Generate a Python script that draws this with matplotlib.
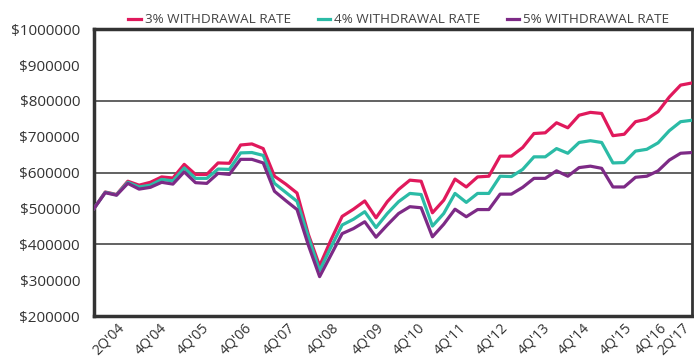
import numpy as np
import matplotlib
matplotlib.use("Agg")
import matplotlib.pyplot as plt

plt.rcParams['font.family'] = ['Open Sans', 'DejaVu Sans']

# portfolio value per quarter, in thousands of dollars
rate_3 = [500, 546, 539, 576, 565, 573, 588, 585, 623, 595, 595, 627, 626, 677, 680, 667,
          590, 568, 543, 428, 340, 412, 478, 498, 521, 474, 519, 553, 579, 576, 488, 523,
          582, 560, 588, 590, 646, 646, 670, 709, 711, 739, 725, 760, 768, 765, 703, 707,
          742, 749, 770, 811, 844, 850]
rate_4 = [500, 545, 538, 573, 560, 565, 581, 577, 613, 584, 584, 610, 609, 655, 656, 648,
          570, 545, 520, 421, 327, 392, 454, 470, 491, 447, 486, 519, 542, 539, 451, 486,
          542, 517, 542, 542, 590, 589, 609, 644, 644, 667, 654, 684, 689, 684, 627, 628,
          660, 665, 683, 717, 742, 746]
rate_5 = [500, 544, 537, 570, 554, 559, 573, 568, 602, 572, 570, 598, 595, 637, 637, 627,
          548, 522, 497, 398, 310, 370, 430, 444, 463, 420, 454, 486, 505, 502, 421, 456,
          498, 477, 497, 497, 540, 540, 559, 584, 584, 605, 590, 614, 618, 612, 560, 560,
          587, 590, 605, 635, 654, 656]

series_names = ["3% WITHDRAWAL RATE", "4% WITHDRAWAL RATE", "5% WITHDRAWAL RATE"]
colors = ["#e0195c", "#2bbba6", "#7d2a86"]

tick_labels = ["2Q'04", "4Q'04", "4Q'05", "4Q'06", "4Q'07", "4Q'08", "4Q'09", "4Q'10",
               "4Q'11", "4Q'12", "4Q'13", "4Q'14", "4Q'15", "4Q'16", "2Q'17"]
tick_pos = [2, 5.8, 9.5, 13.3, 17.1, 21, 25, 28.7, 32.3, 36, 39.7, 43.3, 47, 50.1, 52.1]

fig = plt.figure(figsize=(6.94, 3.6), dpi=100)
ax = fig.add_axes([0.1354, 0.122, 0.8616, 0.797])

x = np.arange(len(rate_3))
for vals, name, c in zip([rate_3, rate_4, rate_5], series_names, colors):
    ax.plot(x, np.array(vals) * 1000, color=c, lw=2.3, label=name, zorder=3)

for g in [400000, 600000, 800000]:
    ax.axhline(g, color="#555555", lw=1.3, zorder=1)

ax.set_xlim(0, len(rate_3) - 1)
ax.set_ylim(200000, 1000000)
yt = np.arange(200000, 1000001, 100000)
ax.set_yticks(yt)
ax.set_yticklabels(["$%d" % v for v in yt], fontsize=11, color="#333333")
ax.set_xticks(tick_pos)
ax.set_xticklabels(tick_labels, rotation=45, ha="right", rotation_mode="anchor",
                   fontsize=10.2, color="#333333")
ax.tick_params(length=0)
ax.tick_params(axis="y", pad=10)
ax.tick_params(axis="x", pad=3)

for s in ax.spines.values():
    s.set_color("#333333")
    s.set_linewidth(2.5)
ax.spines["right"].set_linewidth(2)

leg = ax.legend(loc="lower center", bbox_to_anchor=(0.51, 0.982), ncol=3, frameon=False,
                fontsize=9.7, handlelength=0.9, handletextpad=0.3, columnspacing=2.0,
                borderaxespad=0.2)
for t in leg.get_texts():
    t.set_color("#444444")

fig.savefig("out.png", dpi=100)
